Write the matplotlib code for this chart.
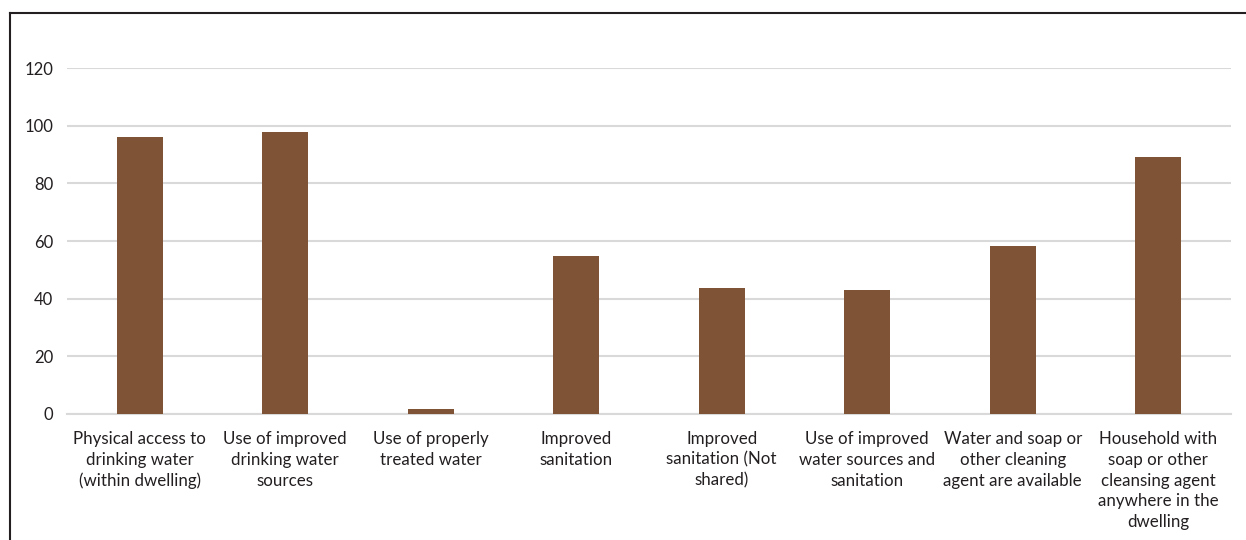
import matplotlib
matplotlib.use("Agg")
import matplotlib.pyplot as plt
from matplotlib.lines import Line2D

categories = [
    "Physical access to\ndrinking water\n(within dwelling)",
    "Use of improved\ndrinking water\nsources",
    "Use of properly\ntreated water",
    "Improved\nsanitation",
    "Improved\nsanitation (Not\nshared)",
    "Use of improved\nwater sources and\nsanitation",
    "Water and soap or\nother cleaning\nagent are available",
    "Household with\nsoap or other\ncleansing agent\nanywhere in the\ndwelling",
]
values = [96.2, 97.9, 1.7, 54.8, 43.7, 43.0, 58.3, 89.2]
yticks = [0, 20, 40, 60, 80, 100, 120]

plt.rcParams["font.family"] = ["Lato", "DejaVu Sans"]

fig = plt.figure(figsize=(12.46, 5.4), dpi=100)
ax = fig.add_axes([67 / 1246, (540 - 414) / 540, (1231 - 67) / 1246, (414 - 68) / 540])

x = list(range(len(categories)))
ax.bar(x, values, width=0.316, color="#7F5436", zorder=3)

ax.set_xlim(-0.5, len(categories) - 0.5)
ax.set_ylim(0, 120)
ax.set_yticks(yticks)
ax.set_yticklabels([str(v) for v in yticks])
ax.set_xticks(x)
ax.set_xticklabels(categories, fontsize=12.2, color="#231F20", linespacing=1.38)
ax.tick_params(axis="y", labelsize=12, colors="#231F20", length=0, pad=10)
ax.tick_params(axis="x", length=0, pad=12)

ax.grid(axis="y", color="#D9D9D9", linewidth=1.5, zorder=0)
ax.set_axisbelow(True)
for s in ["top", "right", "left"]:
    ax.spines[s].set_visible(False)
ax.spines["bottom"].set_color("#D9D9D9")
ax.spines["bottom"].set_linewidth(1.5)

# outer frame: left and top edges
fig.add_artist(Line2D([9.5 / 1246, 9.5 / 1246], [0, 1 - 12.5 / 540], color="#231F20", linewidth=1.5))
fig.add_artist(Line2D([9.5 / 1246, 1], [1 - 12.5 / 540, 1 - 12.5 / 540], color="#231F20", linewidth=1.5))

fig.savefig("out.png", dpi=100, facecolor="white")
